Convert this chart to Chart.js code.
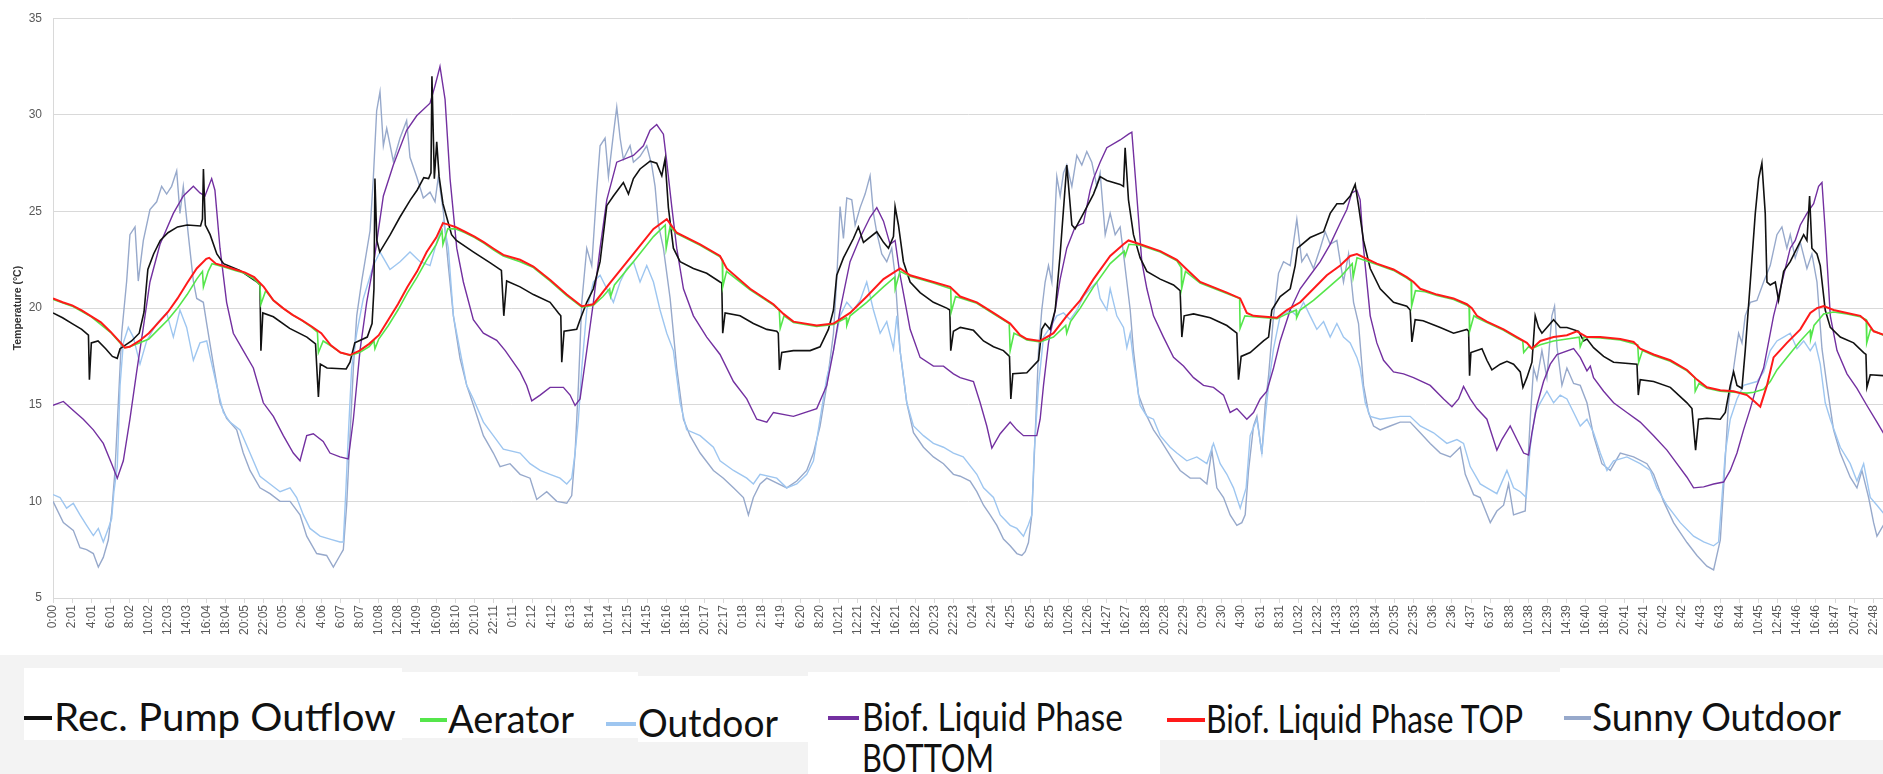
<!DOCTYPE html>
<html>
<head>
<meta charset="utf-8">
<title>Temperature</title>
<script src="https://cdn.jsdelivr.net/npm/chart.js@4.4.1/dist/chart.umd.min.js"></script>
<style>
	html, body { margin: 0; padding: 0; background: #fff; }
	#page { position: relative; width: 1883px; height: 774px; overflow: hidden; background: #fff; }
	#chart { position: absolute; left: 0; top: 0; }
	#band { position: absolute; left: 0; top: 655px; width: 1883px; height: 119px; background: #f3f3f3; }
	.box { position: absolute; background: #fff; }
	.swatch { position: absolute; height: 4px; }
	.label { position: absolute; white-space: nowrap; color: #111; font-family: Lato, "Liberation Sans", sans-serif; font-size: 38px; line-height: 38px; transform-origin: 0 50%; }
</style>
</head>
<body>
<div id="page">
	<canvas id="chart" width="1883" height="655"></canvas>
	<div id="band"></div>
	<div id="legend"></div>
</div>
<script>
'use strict';

// x positions are hours since the first reading (0:00), one tick label every 2 h
var tickLabels = [
	'0:00','2:01','4:01','6:01','8:02','10:02','12:03','14:03','16:04','18:04','20:05','22:05',
	'0:05','2:06','4:06','6:07','8:07','10:08','12:08','14:09','16:09','18:10','20:10','22:11',
	'0:11','2:12','4:12','6:13','8:14','10:14','12:15','14:15','16:16','18:16','20:17','22:17',
	'0:18','2:18','4:19','6:20','8:20','10:21','12:21','14:22','16:21','18:22','20:23','22:23',
	'0:24','2:24','4:25','6:25','8:25','10:26','12:26','14:27','16:27','18:28','20:28','22:29',
	'0:29','2:30','4:30','6:31','8:31','10:32','12:32','14:33','16:33','18:34','20:35','22:35',
	'0:36','2:36','4:37','6:37','8:38','10:38','12:39','14:39','16:40','18:40','20:41','22:41',
	'0:42','2:42','4:43','6:43','8:44','10:45','12:45','14:46','16:46','18:47','20:47','22:48'
];

var seriesNames = ['Rec. Pump Outflow', 'Aerator', 'Outdoor', 'Biof. Liquid Phase BOTTOM', 'Biof. Liquid Phase TOP', 'Sunny Outdoor'];

// [hour, temperature °C]
var pumpOutflow = [[0,19.75],[1,19.5],[2,19.2],[3,18.9],[3.7,18.6],[3.8,16.3],[4,18.2],[4.7,18.3],[5.5,17.9],[6.2,17.5],[6.7,17.4],[7,17.9],[8.2,18.3],[9,18.7],[9.5,19.8],[9.9,22],[10.5,22.8],[11.2,23.5],[12,23.9],[13,24.2],[14,24.3],[15.4,24.25],[15.6,24.6],[15.7,27.2],[15.9,24.3],[16.4,23.8],[17.1,22.8],[17.8,22.3],[19.5,21.95],[21.3,21.35],[21.6,21.2],[21.7,17.8],[21.9,19.75],[23,19.55],[24.7,18.95],[26.5,18.5],[27.4,18.15],[27.7,15.4],[27.9,17.1],[28.6,16.9],[30.6,16.85],[31,17.2],[31.5,18.2],[32.8,18.5],[33.3,19.2],[33.5,21],[33.6,26.7],[33.8,23.5],[34.1,22.9],[35.2,23.8],[36.2,24.7],[37.3,25.6],[38,26.1],[38.7,26.75],[39.2,26.7],[39.45,27],[39.55,32],[39.8,26.7],[40.05,28.6],[40.3,26.8],[40.7,25.4],[41.6,23.8],[42.1,23.5],[43.9,22.9],[45.6,22.35],[46.8,21.95],[47.05,19.6],[47.35,21.4],[48.75,21.1],[50.14,20.7],[51.88,20.3],[52.75,19.75],[53,19.6],[53.1,17.2],[53.34,18.8],[54.66,18.9],[55.01,19.4],[55.71,20.3],[56.4,21],[57.1,22.4],[57.8,25.3],[58.49,25.8],[59.53,26.5],[60.06,25.9],[60.58,26.7],[61.27,27.2],[62.32,27.6],[63.01,27.5],[63.54,26.85],[63.88,27.7],[64.23,25.2],[64.75,23.1],[65.45,22.4],[66.84,22.05],[68.23,21.8],[69.62,21.35],[69.8,21.3],[69.9,18.7],[70.15,19.75],[71.71,19.6],[73.1,19.2],[74.5,18.9],[75.54,18.8],[75.7,18.7],[75.82,16.8],[76.06,17.7],[77.28,17.8],[79.02,17.8],[80.06,18],[80.93,18.9],[81.46,19.9],[81.8,21.7],[82.5,22.6],[83.54,23.6],[84.06,24.2],[84.59,23.4],[85.98,23.95],[86.68,23.4],[87.2,23.1],[87.72,23.7],[87.89,25.25],[88.24,24.3],[88.76,22.4],[89.46,21.35],[90.5,20.8],[91.89,20.3],[93.28,20],[93.6,19.9],[93.7,17.8],[93.98,18.8],[94.7,19],[96.07,18.85],[97.12,18.3],[98.16,18],[99.2,17.8],[99.83,17.5],[99.97,15.3],[100.18,16.6],[101.64,16.65],[102.86,17.3],[103.2,18.9],[103.55,19.2],[104.07,18.9],[104.6,19.9],[105.12,22.8],[105.81,27.4],[106.34,24.3],[106.68,24.1],[107.55,24.9],[108.6,25.9],[109.29,26.8],[109.99,26.6],[111.38,26.4],[111.73,26.3],[111.9,28.3],[112.25,25.6],[112.77,23.8],[113.47,22.6],[114.17,21.9],[115.56,21.5],[116.95,21.2],[117.64,20.9],[117.82,18.5],[118.06,19.6],[119.04,19.7],[120.78,19.5],[122.52,19.1],[123.56,18.7],[123.73,16.3],[124.01,17.5],[124.95,17.7],[126.34,18.3],[126.87,18.5],[127.21,19.9],[128.08,20.6],[129.13,21],[129.65,22.2],[129.89,23.1],[131.21,23.65],[132.61,23.95],[133.3,24.9],[134,25.4],[134.69,25.4],[135.39,25.8],[135.91,26.4],[136.26,25.3],[136.78,23.5],[137.48,22.05],[138.52,21],[139.91,20.3],[141.3,20.1],[141.65,19.9],[141.83,18.25],[142.17,19.4],[143,19.35],[144.79,19],[146.18,18.7],[147.57,18.9],[147.75,18.8],[147.85,16.5],[147.99,17.7],[149.14,17.9],[149.66,17.3],[150.18,16.8],[151.05,17.1],[151.75,17.25],[152.44,17.1],[153.14,16.7],[153.42,15.9],[153.83,16.4],[154.36,17.2],[154.7,19.6],[155.05,19],[155.4,18.7],[155.92,19],[156.62,19.4],[157.31,19],[158.01,19],[159.23,18.8],[159.75,18.3],[160.1,18.4],[160.79,17.95],[161.84,17.5],[162.88,17.2],[165.32,17.1],[165.46,15.5],[165.66,16.3],[167.06,16.2],[168.8,15.9],[170.54,15.1],[171.06,14.8],[171.44,12.65],[171.75,14.25],[172.62,14.3],[174.02,14.25],[174.54,14.6],[175.06,16],[175.41,16.7],[175.76,16],[176.28,15.85],[176.62,17.8],[177.15,21.35],[177.67,24.9],[178.02,26.7],[178.36,27.5],[178.71,24.9],[178.89,21.35],[179.23,21.2],[179.76,21.35],[180.1,20.4],[180.63,21.9],[181.32,22.4],[182.02,23.1],[182.72,23.8],[183.06,23.5],[183.34,25.8],[183.58,23.1],[184.11,22.8],[184.45,22.2],[184.97,19.9],[185.5,19],[186.54,18.5],[187.93,18.2],[188.98,17.7],[189.22,17.6],[189.32,15.9],[189.67,16.55],[191.2,16.5]];

var aerator = [[0,20.45],[2,20.1],[4,19.55],[6,18.75],[7,18.2],[7.5,17.95],[8,18],[9,18.2],[10,18.4],[11,18.9],[12,19.4],[13,20],[14,20.7],[15,21.5],[15.6,21.9],[15.7,21.1],[16.2,21.9],[16.6,22.3],[17,22.25],[18,22.1],[19,21.95],[20,21.8],[21,21.5],[21.6,21.2],[21.7,20.2],[22.2,20.9],[23,20.4],[24,20],[25,19.65],[26,19.35],[27,19],[27.6,18.75],[27.7,17.7],[28.2,18.3],[29,18.05],[30,17.7],[31,17.55],[32,17.7],[33,18],[33.5,18.3],[33.6,17.9],[34,18.4],[35,19.1],[36,19.9],[37,20.8],[38,21.6],[39,22.5],[40,23.3],[40.6,24],[40.7,23.3],[41.2,24.1],[42,24.1],[43,23.9],[44,23.65],[45,23.35],[46,23],[47,22.7],[48.75,22.4],[50.14,22.1],[51.9,21.4],[53.62,20.65],[55.19,20.05],[56.4,20.15],[57.4,20.6],[58.1,21],[58.2,20.6],[58.6,21.2],[60.58,22.4],[62.67,23.7],[63.9,24.3],[64,23.1],[64.4,24.2],[65.1,23.85],[67.54,23.25],[69.62,22.65],[69.85,22.5],[69.9,21.1],[70.3,21.9],[72.76,20.95],[75.19,20.15],[75.8,19.9],[75.9,18.95],[76.3,19.6],[77.28,19.25],[79.71,19.05],[81.46,19.15],[82.8,19.5],[82.85,19.1],[83.2,19.6],[84.93,20.3],[86.68,21.1],[87.85,21.6],[87.9,21],[88.4,21.9],[89.46,21.65],[91.89,21.3],[93.7,21],[93.75,19.8],[94.2,20.6],[96.42,20.25],[98.16,19.7],[99.8,19.2],[99.9,17.8],[100.3,18.7],[100.94,18.55],[101.64,18.35],[103.03,18.25],[104.42,18.5],[105.7,19.1],[105.8,18.7],[106.2,19.3],[107.21,20],[108.6,21.1],[110.34,22.3],[111.8,22.95],[111.9,22.7],[112.3,23.3],[113.47,23.25],[115.56,22.9],[117.3,22.45],[117.75,22.1],[117.8,21],[118.2,21.9],[119.73,21.3],[122.52,20.75],[123.85,20.5],[123.9,18.95],[124.4,19.6],[125.3,19.55],[127.74,19.45],[128.78,19.7],[129.75,19.9],[129.8,19.5],[130.17,19.9],[131.56,20.4],[132.95,21],[134.35,21.6],[135.6,22.3],[135.7,21.6],[136.1,22.6],[138.17,22.25],[139.91,21.95],[141.3,21.55],[141.75,21.4],[141.8,20.1],[142.2,20.9],[143.2,20.85],[144.44,20.65],[146.18,20.45],[147.57,20.15],[147.8,20.05],[147.85,18.8],[148.3,19.6],[148.62,19.5],[149.66,19.25],[151.4,18.85],[152.79,18.45],[153.4,18.3],[153.5,17.7],[154,18],[154.36,17.9],[155.23,18.1],[156.62,18.3],[158.01,18.4],[159.3,18.5],[159.4,18],[159.8,18.5],[161.49,18.45],[163.58,18.35],[165.4,18.1],[165.5,17.2],[165.9,17.8],[167.06,17.55],[168.8,17.25],[170.54,16.75],[171.35,16.4],[171.4,15.7],[171.8,16.1],[172.62,15.85],[174.02,15.7],[175.41,15.65],[176.8,15.6],[177.5,15.65],[178.54,15.8],[179.23,16.2],[179.93,16.8],[180.97,17.45],[182.37,18.3],[183.4,18.85],[183.45,18.4],[183.8,19.1],[184.8,19.7],[185.84,19.8],[187.24,19.7],[188.63,19.55],[189.25,19.4],[189.3,18.2],[189.7,18.9],[191.2,18.55]];

var outdoor = [[0,10.35],[0.73,10.2],[1.42,9.65],[2.12,9.9],[2.82,9.3],[3.51,8.76],[4.21,8.23],[4.73,8.6],[5.25,7.9],[5.77,8.6],[6.12,9.1],[6.36,10.5],[6.71,11.8],[7,16],[7.34,18.2],[7.86,19],[8.38,18.5],[9.08,17.1],[9.77,18.3],[10.82,19.2],[11.86,19.75],[12.56,18.5],[13.25,19.9],[13.95,19],[14.65,17.3],[15.34,18.2],[16.04,18.3],[16.39,17.5],[17.08,16],[17.78,14.6],[18.47,14.1],[19.52,13.7],[20.56,12.5],[21.6,11.3],[22.65,10.9],[23.7,10.5],[24.74,10.7],[25.43,10.2],[26.13,9.3],[26.82,8.6],[27.87,8.2],[28.91,8.05],[29.95,7.9],[30.3,7.9],[30.58,10.7],[30.82,13.4],[31.17,16.9],[31.7,18.7],[32.39,20.5],[33.43,22.2],[34.13,22.9],[35.17,22],[36.22,22.4],[37.26,22.9],[38.31,22.4],[39.35,22.2],[40.05,23.4],[40.74,24.5],[41.26,23.1],[41.79,19.6],[42.48,17.8],[43.18,16],[43.87,15.3],[44.92,14.1],[45.96,13.4],[47,12.7],[48.75,12.5],[49.79,11.95],[50.84,11.6],[51.88,11.4],[52.92,11.2],[53.62,10.9],[54.14,11.2],[54.49,12.5],[54.84,14.25],[55.19,16.9],[55.71,19.9],[56.4,21.35],[57.1,21.7],[57.8,21],[58.49,20.3],[59.19,21.35],[59.88,22.05],[60.58,22.4],[61.27,21.35],[61.97,22.2],[62.67,21.35],[63.36,19.9],[64.06,18.7],[64.75,17.8],[65.45,15.1],[66.14,13.7],[67.54,13.4],[68.93,12.8],[69.62,12.1],[71.02,11.6],[72.41,11.2],[73.1,10.9],[73.8,11.4],[75.54,11.2],[76.58,10.7],[77.63,10.9],[78.67,11.4],[79.37,12.1],[80.06,14.25],[80.76,16.4],[81.46,17.8],[82.15,19.6],[82.85,20.3],[83.54,19.9],[84.24,20.4],[84.93,21.35],[85.63,19.9],[86.33,18.7],[87.02,19.3],[87.72,17.9],[88.07,19.6],[88.41,17.8],[89.11,15.1],[89.81,13.9],[90.85,13.4],[91.89,13],[92.94,12.8],[93.98,12.5],[95,12.3],[96.42,11.4],[97.12,10.7],[98.16,10.2],[98.86,9.3],[99.9,8.76],[100.6,8.6],[101.29,8.2],[101.81,8.8],[102.16,9.3],[102.4,12.5],[102.86,16],[103.38,18.5],[104.07,19],[104.77,19.6],[105.47,19.75],[106.16,19.4],[106.86,19.9],[107.55,20.6],[108.25,21],[108.95,21.35],[109.29,20.5],[109.99,19.9],[110.34,21],[111.03,19.6],[111.73,19],[112.08,17.95],[112.43,18.7],[112.77,17.3],[113.47,14.96],[114.17,14.4],[114.86,14.25],[115.56,13.4],[116.6,12.8],[117.3,12.5],[118.34,12.1],[119.38,12.3],[120.43,11.95],[121.12,13],[121.82,11.95],[122.52,11.4],[123.21,10.7],[123.91,9.65],[124.53,10.7],[124.95,13.4],[125.65,14.25],[126.17,12.5],[126.52,14.3],[126.87,16],[127.39,17.9],[128.08,19.6],[129.13,19.9],[129.82,19.6],[130.52,20.3],[131.21,19.6],[131.91,18.9],[132.61,19.3],[133.3,18.5],[134,19.2],[134.69,18.5],[135.39,18.2],[136.09,17.45],[136.43,16.9],[136.96,15.1],[137.48,14.4],[138.52,14.25],[140.61,14.4],[141.65,14.4],[142.7,13.9],[144.09,13.55],[145.48,13],[146.53,13.2],[147.22,13],[147.92,11.8],[148.96,10.9],[149.66,10.7],[150.7,10.4],[151.75,11.6],[152.44,10.7],[153.14,10.5],[153.76,10.2],[154.18,12.8],[154.7,14.6],[155.23,15.1],[155.92,15.7],[156.62,15.1],[157.31,15.5],[158.01,15.3],[158.71,14.6],[159.4,13.9],[160.1,14.25],[160.79,13.55],[161.49,12.5],[162.19,11.6],[162.88,12.1],[164.27,12.3],[165.66,11.95],[166.71,11.6],[167.4,10.7],[168.45,9.8],[169.84,8.9],[171.23,8.2],[172.28,7.9],[173.32,7.7],[173.84,7.9],[174.19,10.2],[174.54,12.5],[175.06,14.25],[175.76,15.3],[176.45,16],[177.84,16.2],[178.54,16.7],[179.23,17.8],[179.93,18.3],[180.63,18.5],[181.32,18.7],[182.02,17.9],[182.72,18.3],[183.41,17.8],[183.93,18.2],[184.45,17.1],[184.97,15.1],[185.5,14.25],[186.54,12.8],[187.58,11.95],[188.28,11.05],[188.98,11.95],[189.67,10.2],[190.37,9.8],[191.2,9.3]];

var bottomPhase = [[0,14.97],[1.08,15.17],[2.12,14.7],[3.16,14.25],[4.21,13.7],[5.25,13],[6.12,11.95],[6.71,11.2],[7.34,12.1],[8.03,14.25],[8.73,16.7],[9.43,19],[10.12,21.35],[11.17,23.3],[12.56,24.9],[13.6,25.8],[14.65,26.3],[15.34,25.96],[15.86,25.8],[16.56,26.7],[16.9,26.1],[17.43,23.1],[18.12,20.3],[18.82,18.7],[19.86,17.8],[20.91,16.9],[21.95,15.1],[23,14.4],[24.04,13.4],[25.08,12.5],[25.78,12.1],[26.48,13.4],[27.17,13.5],[28.2,13.1],[28.91,12.5],[29.95,12.3],[30.82,12.2],[31.35,14.25],[32.04,17.8],[32.74,20.3],[33.43,22.2],[34.48,25.8],[35.52,27.4],[36.91,29.2],[37.96,29.95],[39.35,30.6],[39.87,31.5],[40.39,32.5],[40.92,30.8],[41.44,26.7],[42.14,23.1],[42.83,21.35],[43.87,19.4],[44.92,18.7],[46.31,18.33],[47.2,17.8],[48.75,16.7],[49.44,16],[49.97,15.2],[50.84,15.5],[51.88,15.9],[53.27,15.9],[53.97,15.5],[54.49,14.96],[55.01,15.3],[55.71,17.8],[56.4,20.3],[57.1,23.1],[57.8,25.6],[58.84,27.55],[60.58,27.9],[61.62,28.4],[62.32,29.2],[63.01,29.5],[63.71,29],[64.06,27.55],[64.58,25.25],[65.1,23.1],[65.8,21],[66.84,19.6],[68.23,18.5],[69.62,17.6],[71.02,16.2],[72.41,15.3],[73.45,14.25],[74.5,14.1],[75.19,14.6],[77.28,14.4],[79.71,14.8],[80.76,16],[81.46,17.8],[82.15,19.9],[83.19,22.4],[84.24,23.65],[85.28,24.7],[85.98,25.2],[86.68,24.5],[87.37,23.3],[87.89,23.5],[88.41,21.7],[89.46,18.9],[90.5,17.45],[91.89,17],[92.94,17],[93.98,16.6],[94.68,16.4],[96.07,16.2],[96.77,15.1],[97.46,13.9],[97.99,12.75],[98.86,13.5],[99.9,14.1],[100.6,13.7],[101.29,13.4],[102.68,13.4],[103.03,14.25],[103.38,16],[103.9,18.2],[104.6,19.9],[105.12,21.5],[105.81,23.1],[106.68,24.2],[107.55,24.4],[108.25,26.1],[108.6,26.7],[109.29,27.55],[109.99,28.3],[111.38,28.7],[112.25,29],[112.6,29.1],[113.12,25.8],[113.64,22.4],[114.17,21],[114.86,19.6],[115.9,18.5],[116.95,17.45],[117.99,17],[119.04,16.4],[120.08,16],[121.12,15.9],[122.17,15.5],[122.86,14.6],[123.56,14.8],[124.6,14.25],[125.3,14.6],[126,15.3],[126.69,15.7],[127.39,16.9],[128.08,18.3],[129.13,19.9],[130.17,21],[131.21,21.7],[132.26,22.4],[133.3,23.3],[134.35,24.4],[135.04,25.1],[135.56,25.96],[136.09,26.1],[136.43,25.6],[136.78,23.1],[137.48,19.6],[138.17,18.2],[138.87,17.3],[139.91,16.7],[140.96,16.6],[142,16.4],[143.74,16],[145.14,15.3],[146.01,14.9],[146.7,15.3],[147.22,15.95],[147.92,15.3],[148.62,14.8],[149.66,14.25],[150.7,12.65],[151.22,13.2],[152.09,13.9],[152.79,13.2],[153.49,12.5],[154.01,12.4],[154.36,13.55],[154.88,14.96],[155.57,16.2],[156.27,17.1],[156.97,17.6],[158.71,17.9],[159.4,17.45],[160.1,16.75],[160.45,17],[160.79,16.4],[161.84,15.7],[162.88,15.1],[164.27,14.6],[165.66,14.1],[167.06,13.4],[168.45,12.65],[169.49,11.95],[170.54,11.25],[171.23,10.7],[172.28,10.75],[173.32,10.9],[174.36,11],[175.06,11.6],[175.76,12.5],[176.45,13.7],[177.15,14.8],[177.84,16],[178.54,16.9],[179.58,19.6],[180.63,21.7],[181.32,23.1],[181.84,23.5],[182.37,24.3],[183.06,24.9],[183.76,25.4],[184.28,26.3],[184.63,26.5],[184.97,24],[185.5,19.6],[186.2,17.8],[187.24,16.6],[188.28,15.85],[189.32,14.96],[190.37,14.1],[191.2,13.4]];

var topPhase = [[0,20.5],[1,20.3],[2,20.14],[3,19.88],[4,19.57],[5,19.26],[6,18.78],[7,18.24],[7.5,17.95],[8,18],[9,18.3],[10,18.7],[11,19.25],[12,19.8],[13,20.5],[14,21.3],[15,22.05],[16,22.55],[16.3,22.6],[17,22.3],[18,22.15],[19,22],[20,21.85],[21,21.6],[22,21.1],[23,20.4],[24,20],[25,19.65],[26,19.36],[27,19.05],[28,18.7],[29,18.07],[30,17.7],[31,17.57],[32,17.8],[33,18.15],[34,18.6],[35,19.4],[36,20.2],[37,21.1],[38,21.9],[39,22.9],[40,23.65],[40.7,24.4],[41,24.36],[42,24.2],[43,23.95],[44,23.7],[45,23.4],[46,23.07],[47,22.75],[48.75,22.5],[50.14,22.15],[51.9,21.45],[53.62,20.7],[55.19,20.1],[56.4,20.2],[58.14,21.3],[60.58,22.8],[62.67,24.1],[64.06,24.6],[65.1,23.9],[67.54,23.3],[69.62,22.7],[70.32,22.05],[72.76,21],[75.19,20.2],[76.24,19.7],[77.28,19.3],[79.71,19.1],[81.46,19.2],[83.19,19.75],[84.93,20.6],[86.68,21.5],[88.41,22.05],[89.46,21.7],[91.89,21.35],[93.63,21.1],[94.68,20.6],[96.42,20.3],[98.16,19.75],[99.9,19.2],[100.94,18.6],[101.64,18.4],[103.03,18.3],[104.42,18.7],[105.81,19.6],[107.21,20.4],[108.6,21.5],[110.34,22.7],[111.73,23.3],[112.25,23.5],[113.47,23.3],[115.56,22.95],[117.3,22.5],[118.34,22],[119.73,21.35],[122.52,20.8],[123.91,20.5],[124.6,19.75],[125.3,19.6],[127.74,19.5],[128.78,19.9],[130.17,20.3],[131.56,21],[132.95,21.7],[134.35,22.2],[135.39,22.7],[136.09,22.8],[138.17,22.3],[139.91,22],[141.3,21.6],[142,21.35],[142.7,21],[144.44,20.7],[146.18,20.5],[147.57,20.2],[148.09,20],[148.62,19.6],[149.66,19.3],[151.4,18.9],[152.79,18.5],[153.83,18.2],[154.36,17.9],[155.23,18.3],[156.62,18.5],[158.01,18.6],[159.05,18.8],[160.1,18.5],[161.49,18.5],[163.58,18.4],[164.97,18.25],[165.66,17.9],[167.06,17.6],[168.8,17.3],[170.54,16.8],[171.58,16.3],[172.62,15.9],[174.02,15.75],[175.41,15.7],[176.8,15.5],[177.5,15.2],[178.19,14.9],[178.89,16],[179.58,17.45],[180.97,18.2],[182.37,18.9],[183.41,19.75],[184.11,20],[184.8,20.1],[185.84,19.9],[187.24,19.75],[188.63,19.6],[189.32,19.3],[190.02,18.8],[191.2,18.6]];

var sunnyOutdoor = [[0,10],[1.08,8.9],[2.12,8.5],[2.82,7.6],[3.51,7.5],[4.21,7.3],[4.73,6.6],[5.25,7.1],[5.77,8],[6.12,9.4],[6.47,11.6],[6.82,15.1],[7.17,18.7],[7.69,21.4],[8.03,23.8],[8.56,24.2],[8.9,21.4],[9.43,23.5],[10.12,25.1],[10.82,25.5],[11.34,26.3],[11.86,25.9],[12.38,26.3],[12.91,27.1],[13.25,24.9],[13.6,26.3],[14.12,23.8],[14.65,21.4],[15,20.5],[15.69,20.3],[16.04,19.2],[16.73,17.1],[17.43,15.1],[18.12,14.3],[19.17,13.7],[19.86,12.5],[20.56,11.6],[21.6,10.7],[22.65,10.4],[23.7,10],[24.74,10],[25.78,9.3],[26.48,8.2],[27.52,7.3],[28.56,7.2],[29.26,6.6],[29.95,7.2],[30.3,7.5],[30.65,9.8],[31,13.4],[31.35,16.9],[31.7,19.6],[32.22,21.4],[33.09,24],[33.43,26.7],[33.78,30.2],[34.13,31.2],[34.48,28.4],[34.83,29.3],[35.52,27.6],[36.22,28.8],[36.91,29.7],[37.26,27.8],[37.96,26.8],[38.65,25.7],[39.35,26],[39.87,25.5],[40.22,26.8],[40.74,25],[41.26,22.2],[41.79,19.6],[42.48,17.4],[43.18,16],[43.87,15],[44.92,13.4],[45.96,12.5],[46.66,11.8],[47.7,11.95],[48.75,11.4],[49.79,11.2],[50.49,10.1],[51.53,10.5],[52.58,10],[53.62,9.9],[54.14,10.3],[54.49,12.5],[54.84,16],[55.19,20.3],[55.71,23.1],[56.23,22.2],[56.75,26.1],[57.1,28.4],[57.62,28.8],[57.97,26.8],[58.49,29],[58.84,30.4],[59.19,28.8],[59.53,27.7],[60.23,28.4],[60.58,27.55],[61.27,27.85],[61.97,28.4],[62.49,27.4],[62.84,26.3],[63.19,24.3],[63.71,23.1],[64.41,20.5],[65.1,16.9],[65.8,14.25],[66.49,13.4],[67.54,12.5],[68.93,11.6],[69.97,11.2],[71.02,10.7],[72.06,10.2],[72.58,9.3],[73.1,10.2],[73.8,10.9],[74.5,11.2],[76.58,10.7],[77.63,11.05],[78.67,11.6],[79.37,12.5],[80.06,13.9],[80.76,16],[81.46,18.7],[81.8,21.5],[82.15,25.25],[82.5,23.6],[82.85,25.7],[83.37,25.6],[83.72,24.3],[84.24,25.2],[84.76,25.9],[85.28,26.85],[85.63,24.9],[85.98,23.9],[86.5,22.8],[87.02,22.4],[87.54,23.1],[87.89,21.7],[88.41,17.8],[89.11,15.1],[89.81,13.55],[90.85,12.8],[91.89,12.3],[92.94,11.95],[93.98,11.4],[94.68,11.3],[95.72,11.05],[96.42,10.5],[97.12,9.8],[97.81,9.3],[98.51,8.76],[99.2,8.05],[99.9,7.7],[100.6,7.3],[101.12,7.2],[101.47,7.4],[101.81,7.87],[102.16,9.3],[102.51,13.4],[102.86,17.8],[103.2,19.9],[103.55,21.35],[103.9,22.2],[104.25,21.35],[104.77,26.8],[105.12,25.8],[105.47,27],[105.81,27.4],[106.34,26.3],[106.86,27.9],[107.38,27.4],[107.9,28.1],[108.42,27.55],[108.95,26.3],[109.29,27],[109.82,23.8],[110.34,24.9],[110.86,23.8],[111.38,24.2],[111.73,22.8],[112.08,21.35],[112.43,19.9],[112.77,17.8],[113.3,15.5],[113.99,14.6],[114.86,13.7],[115.56,13.2],[116.25,12.65],[116.95,12.1],[117.64,11.6],[118.69,11.2],[119.73,11.2],[120.43,10.9],[120.95,12.65],[121.47,10.7],[122.17,10.2],[122.86,9.3],[123.56,8.76],[124.08,8.9],[124.43,9.3],[124.78,11.6],[125.3,13.9],[125.65,14.4],[126.17,12.45],[126.52,15],[126.87,16.5],[127.39,19.6],[127.91,21.8],[128.43,22.4],[129.13,22.2],[129.82,24.6],[130.34,22.4],[130.87,22.8],[131.56,22.05],[132.26,23.1],[132.78,23.95],[133.3,23.3],[134,23.5],[134.69,21.35],[135.22,22.8],[135.74,20.3],[136.26,19.2],[136.78,16],[137.3,14.6],[137.83,13.9],[138.52,13.7],[139.56,13.9],[140.61,14.1],[141.65,14.1],[142.7,13.55],[143.74,13],[144.79,12.5],[145.83,12.3],[146.88,12.8],[147.4,11.4],[148.27,10.35],[148.96,10.2],[150.01,8.9],[150.7,9.5],[151.4,9.8],[151.92,10.9],[152.44,9.3],[153.66,9.5],[154.18,14.25],[154.53,16.9],[154.88,16.3],[155.4,17.8],[155.92,16.4],[156.44,19.6],[156.72,20.1],[156.97,18],[157.49,16],[158.01,16.9],[158.71,16.1],[159.4,16],[160.1,15.1],[160.79,13.4],[161.66,11.95],[162.53,11.6],[163.58,12.5],[164.97,12.3],[166.36,11.95],[167.06,11.4],[168.1,10],[169.14,8.9],[170.54,7.87],[171.58,7.2],[172.62,6.65],[173.32,6.45],[174.02,8],[174.36,10.7],[174.88,15.1],[175.41,16.9],[175.93,18.7],[176.28,18.2],[176.62,19.6],[177.15,20.3],[177.84,20.4],[178.54,21.35],[179.23,22.2],[179.93,23.8],[180.45,24.2],[180.97,23.1],[181.32,23.8],[181.84,22.6],[182.37,23.4],[183.06,22.05],[183.58,22.8],[184.11,21.35],[184.63,17.9],[185.15,16],[185.84,13.7],[186.54,12.5],[187.58,11.25],[188.28,10.7],[188.8,11.6],[189.5,10.2],[190.02,8.9],[190.37,8.2],[191.2,8.9]];

(function () {
	var colors = ['#111111', '#55e64b', '#9ec6f0', '#7330a0', '#ff1a1a', '#97a9cb'];
	var widths = [1.6, 1.6, 1.4, 1.4, 2, 1.4];
	// lower order is painted last (on top): red over green over black ...
	var orders = [2, 1, 4, 3, 0, 5];
	var values = [pumpOutflow, aerator, outdoor, bottomPhase, topPhase, sunnyOutdoor];

	function toPoints(pairs) {
		return pairs.map(function (p) { return {x: p[0], y: p[1]}; });
	}

	var datasets = values.map(function (pairs, i) {
		return {
			label: seriesNames[i],
			data: toPoints(pairs),
			borderColor: colors[i],
			backgroundColor: colors[i],
			borderWidth: widths[i],
			pointRadius: 0,
			tension: 0,
			fill: false,
			order: orders[i]
		};
	});

	var tickFont = {family: '"Liberation Sans", Arial, sans-serif', size: 12};

	new Chart(document.getElementById('chart'), {
		type: 'line',
		data: {datasets: datasets},
		options: {
			responsive: false,
			animation: false,
			devicePixelRatio: 1,
			events: [],
			layout: {padding: {top: 17, right: 0, bottom: 0, left: 0}},
			plugins: {legend: {display: false}, tooltip: {enabled: false}},
			scales: {
				x: {
					type: 'linear',
					min: 0,
					max: 191,
					grid: {drawOnChartArea: false, color: '#d9d9d9', tickLength: 5},
					border: {color: '#d9d9d9'},
					ticks: {
						stepSize: 2,
						autoSkip: false,
						includeBounds: false,
						minRotation: 90,
						maxRotation: 90,
						padding: 2,
						color: '#595959',
						font: tickFont,
						callback: function (v) {
							var i = Math.round(v / 2);
							return Math.abs(v - i * 2) < 0.01 ? tickLabels[i] : '';
						}
					},
					afterFit: function (scale) {
						scale.height = 57;
						scale.paddingLeft = 0;
						scale.paddingRight = 0;
					}
				},
				y: {
					min: 5,
					max: 35,
					grid: {color: '#d9d9d9', drawTicks: false},
					border: {color: '#d9d9d9'},
					ticks: {stepSize: 5, padding: 11, color: '#595959', font: tickFont},
					title: {
						display: true,
						text: 'Temperature (°C)',
						color: '#333',
						padding: {top: 12, bottom: 0},
						font: {family: '"Liberation Sans", Arial, sans-serif', size: 10.5, weight: 'bold'}
					},
					afterFit: function (scale) {
						scale.width = 53;
					}
				}
			}
		}
	});

	// legend drawn as html below the plot, laid out like the original figure
	// line: [left, width, top]   text: [left, top, wanted width]
	var legendLayout = [
		{line: [24, 28, 716], text: [54, 697, 342]},
		{line: [420, 27, 718], text: [448, 699, 126]},
		{line: [606, 30, 722], text: [638, 703, 140]},
		{line: [828, 31, 716], text: [862, 697, 261], second: [862, 738, 132]},
		{line: [1167, 38, 718], text: [1206, 699, 317]},
		{line: [1564, 27, 716], text: [1592, 697, 249]}
	];
	var boxes = [[24, 668, 378, 72], [402, 672, 236, 66], [638, 676, 170, 66], [808, 672, 352, 102], [1160, 672, 400, 68], [1560, 668, 323, 72]];
	var legend = document.getElementById('legend');

	function addLabel(text, spec) {
		var t = document.createElement('div');
		t.className = 'label';
		t.style.left = spec[0] + 'px';
		t.style.top = spec[1] + 'px';
		t.textContent = text;
		legend.appendChild(t);
		var natural = t.getBoundingClientRect().width;
		if (natural > 0) {
			t.style.transform = 'scaleX(' + (spec[2] / natural).toFixed(3) + ')';
		}
	}

	boxes.forEach(function (b) {
		var d = document.createElement('div');
		d.className = 'box';
		d.style.cssText = 'left:' + b[0] + 'px;top:' + b[1] + 'px;width:' + b[2] + 'px;height:' + b[3] + 'px';
		legend.appendChild(d);
	});
	legendLayout.forEach(function (item, i) {
		var sw = document.createElement('div');
		sw.className = 'swatch';
		sw.style.cssText = 'left:' + item.line[0] + 'px;width:' + item.line[1] + 'px;top:' + item.line[2] + 'px;background:' + colors[i];
		legend.appendChild(sw);
		if (item.second) {
			addLabel('Biof. Liquid Phase', item.text);
			addLabel('BOTTOM', item.second);
		} else {
			addLabel(seriesNames[i], item.text);
		}
	});
})();
</script>
</body>
</html>
